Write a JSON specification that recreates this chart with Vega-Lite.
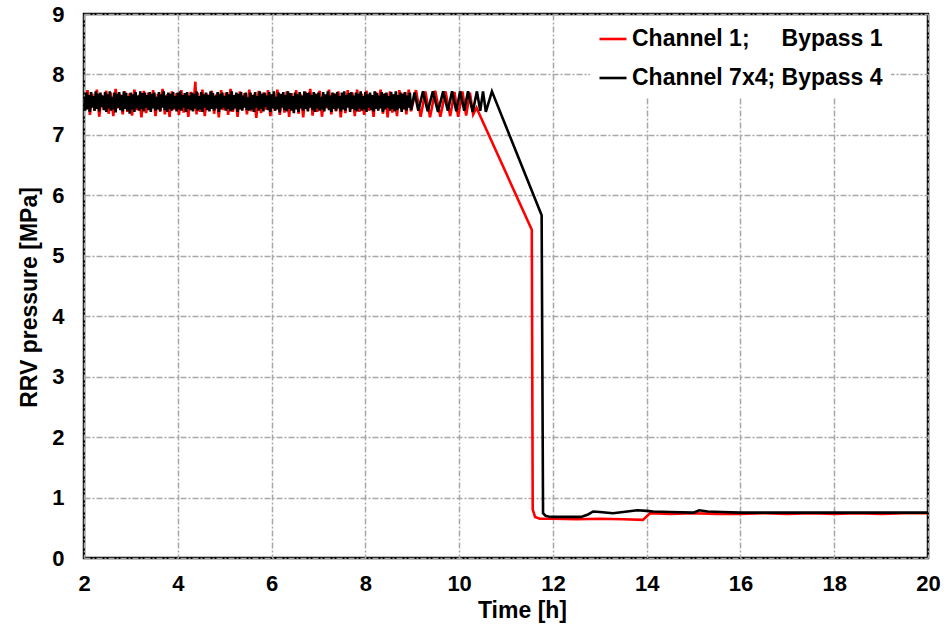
{
  "$schema": "https://vega.github.io/schema/vega-lite/v6.json",
  "width": 844,
  "height": 544,
  "autosize": {"type": "none"},
  "padding": {"left": 84, "top": 14, "right": 24, "bottom": 66},
  "background": "white",
  "config": {
    "view": {"stroke": "black", "strokeWidth": 2.5},
    "font": "Liberation Sans",
    "axis": {
      "labelFont": "Liberation Sans",
      "labelFontSize": 22,
      "labelFontWeight": "bold",
      "labelColor": "black",
      "labelFlush": false,
      "titleFont": "Liberation Sans",
      "titleFontSize": 23,
      "titleFontWeight": "bold",
      "titleColor": "black",
      "tickSize": 0,
      "ticks": false,
      "grid": true,
      "gridColor": "#a8a8a8",
      "gridDash": [6, 2, 2, 2],
      "gridWidth": 1.5,
      "domain": false
    },
    "legend": {
      "orient": "none",
      "legendX": 506,
      "legendY": 2,
      "padding": 8,
      "fillColor": "white",
      "labelFont": "Liberation Sans",
      "labelFontSize": 23,
      "labelFontWeight": "bold",
      "labelColor": "black",
      "labelLimit": 400,
      "labelOffset": 4,
      "symbolType": "stroke",
      "symbolSize": 729,
      "symbolStrokeWidth": 2.6,
      "rowPadding": 12,
      "title": null
    }
  },
  "datasets": {
    "channel1": [
      {"t":2.025,"p":7.45},{"t":2.075,"p":7.74},{"t":2.125,"p":7.33},{"t":2.175,"p":7.68},{"t":2.225,"p":7.40},{"t":2.275,"p":7.75},{"t":2.325,"p":7.30},{"t":2.375,"p":7.66},{"t":2.425,"p":7.42},{"t":2.475,"p":7.73},
      {"t":2.525,"p":7.35},{"t":2.575,"p":7.70},{"t":2.625,"p":7.31},{"t":2.675,"p":7.76},{"t":2.725,"p":7.44},{"t":2.775,"p":7.67},{"t":2.825,"p":7.34},{"t":2.875,"p":7.72},{"t":2.925,"p":7.38},{"t":2.975,"p":7.69},
      {"t":3.025,"p":7.32},{"t":3.075,"p":7.75},{"t":3.125,"p":7.41},{"t":3.175,"p":7.66},{"t":3.225,"p":7.29},{"t":3.275,"p":7.73},{"t":3.325,"p":7.36},{"t":3.375,"p":7.70},{"t":3.425,"p":7.43},{"t":3.475,"p":7.74},
      {"t":3.525,"p":7.31},{"t":3.575,"p":7.68},{"t":3.625,"p":7.39},{"t":3.675,"p":7.76},{"t":3.725,"p":7.34},{"t":3.775,"p":7.67},{"t":3.825,"p":7.30},{"t":3.875,"p":7.72},{"t":3.925,"p":7.42},{"t":3.975,"p":7.69},
      {"t":4.025,"p":7.33},{"t":4.075,"p":7.74},{"t":4.125,"p":7.37},{"t":4.175,"p":7.66},{"t":4.225,"p":7.30},{"t":4.275,"p":7.71},{"t":4.325,"p":7.40},{"t":4.375,"p":7.88},{"t":4.400,"p":7.34},{"t":4.425,"p":7.70},
      {"t":4.475,"p":7.38},{"t":4.525,"p":7.75},{"t":4.575,"p":7.31},{"t":4.625,"p":7.68},{"t":4.675,"p":7.43},{"t":4.725,"p":7.73},{"t":4.775,"p":7.35},{"t":4.825,"p":7.67},{"t":4.875,"p":7.29},{"t":4.925,"p":7.74},
      {"t":4.975,"p":7.41},{"t":5.025,"p":7.70},{"t":5.075,"p":7.33},{"t":5.125,"p":7.76},{"t":5.175,"p":7.38},{"t":5.225,"p":7.66},{"t":5.275,"p":7.30},{"t":5.325,"p":7.72},{"t":5.375,"p":7.44},{"t":5.425,"p":7.69},
      {"t":5.475,"p":7.34},{"t":5.525,"p":7.75},{"t":5.575,"p":7.39},{"t":5.625,"p":7.67},{"t":5.675,"p":7.28},{"t":5.725,"p":7.73},{"t":5.775,"p":7.36},{"t":5.825,"p":7.70},{"t":5.875,"p":7.42},{"t":5.925,"p":7.74},
      {"t":5.975,"p":7.31},{"t":6.025,"p":7.68},{"t":6.075,"p":7.40},{"t":6.125,"p":7.75},{"t":6.175,"p":7.33},{"t":6.225,"p":7.66},{"t":6.275,"p":7.37},{"t":6.325,"p":7.72},{"t":6.375,"p":7.30},{"t":6.425,"p":7.69},
      {"t":6.475,"p":7.43},{"t":6.525,"p":7.74},{"t":6.575,"p":7.35},{"t":6.625,"p":7.67},{"t":6.675,"p":7.29},{"t":6.725,"p":7.71},{"t":6.775,"p":7.41},{"t":6.825,"p":7.76},{"t":6.875,"p":7.32},{"t":6.925,"p":7.68},
      {"t":6.975,"p":7.38},{"t":7.025,"p":7.73},{"t":7.075,"p":7.30},{"t":7.125,"p":7.66},{"t":7.175,"p":7.44},{"t":7.225,"p":7.75},{"t":7.275,"p":7.34},{"t":7.325,"p":7.69},{"t":7.375,"p":7.39},{"t":7.425,"p":7.72},
      {"t":7.475,"p":7.29},{"t":7.525,"p":7.67},{"t":7.575,"p":7.36},{"t":7.625,"p":7.74},{"t":7.675,"p":7.42},{"t":7.725,"p":7.70},{"t":7.775,"p":7.31},{"t":7.825,"p":7.75},{"t":7.875,"p":7.38},{"t":7.925,"p":7.68},
      {"t":7.975,"p":7.33},{"t":8.025,"p":7.73},{"t":8.075,"p":7.40},{"t":8.125,"p":7.66},{"t":8.175,"p":7.30},{"t":8.225,"p":7.71},{"t":8.275,"p":7.43},{"t":8.325,"p":7.75},{"t":8.375,"p":7.35},{"t":8.425,"p":7.69},
      {"t":8.475,"p":7.29},{"t":8.525,"p":7.72},{"t":8.575,"p":7.37},{"t":8.625,"p":7.67},{"t":8.675,"p":7.31},{"t":8.725,"p":7.74},{"t":8.775,"p":7.41},{"t":8.825,"p":7.70},{"t":8.875,"p":7.34},{"t":8.925,"p":7.75},
      {"t":8.975,"p":7.39},
      {"t":9.08,"p":7.74},{"t":9.18,"p":7.30},{"t":9.28,"p":7.72},{"t":9.38,"p":7.29},{"t":9.49,"p":7.73},{"t":9.60,"p":7.30},{"t":9.71,"p":7.72},{"t":9.81,"p":7.31},{"t":9.90,"p":7.71},{"t":9.98,"p":7.30},
      {"t":10.07,"p":7.72},{"t":10.15,"p":7.32},{"t":10.23,"p":7.70},{"t":10.30,"p":7.34},{"t":10.37,"p":7.45},
      {"t":11.55,"p":5.43},{"t":11.57,"p":0.80},{"t":11.62,"p":0.68},{"t":11.72,"p":0.65},{"t":12.0,"p":0.65},{"t":12.5,"p":0.64},{"t":13.0,"p":0.65},{"t":13.5,"p":0.64},{"t":13.92,"p":0.63},{"t":14.07,"p":0.74},
      {"t":14.5,"p":0.73},{"t":15.0,"p":0.74},{"t":15.5,"p":0.73},{"t":16.0,"p":0.73},{"t":16.5,"p":0.74},{"t":17.0,"p":0.73},{"t":17.5,"p":0.74},{"t":18.0,"p":0.73},{"t":18.5,"p":0.74},{"t":19.0,"p":0.73},{"t":19.5,"p":0.74},{"t":20.0,"p":0.74}
    ],
    "channel7x4": [
      {"t":2.000,"p":7.62},{"t":2.025,"p":7.40},{"t":2.050,"p":7.70},{"t":2.075,"p":7.42},{"t":2.100,"p":7.66},{"t":2.125,"p":7.38},{"t":2.150,"p":7.71},{"t":2.175,"p":7.45},{"t":2.200,"p":7.64},{"t":2.225,"p":7.40},
      {"t":2.250,"p":7.72},{"t":2.275,"p":7.43},{"t":2.300,"p":7.68},{"t":2.325,"p":7.39},{"t":2.350,"p":7.70},{"t":2.375,"p":7.46},{"t":2.400,"p":7.65},{"t":2.425,"p":7.41},{"t":2.450,"p":7.71},{"t":2.475,"p":7.38},
      {"t":2.500,"p":7.67},{"t":2.525,"p":7.44},{"t":2.550,"p":7.72},{"t":2.575,"p":7.40},{"t":2.600,"p":7.63},{"t":2.625,"p":7.42},{"t":2.650,"p":7.70},{"t":2.675,"p":7.37},{"t":2.700,"p":7.68},{"t":2.725,"p":7.45},
      {"t":2.750,"p":7.71},{"t":2.775,"p":7.41},{"t":2.800,"p":7.66},{"t":2.825,"p":7.39},{"t":2.850,"p":7.72},{"t":2.875,"p":7.43},{"t":2.900,"p":7.69},{"t":2.925,"p":7.40},{"t":2.950,"p":7.64},{"t":2.975,"p":7.35},
      {"t":3.000,"p":7.70},{"t":3.025,"p":7.42},{"t":3.050,"p":7.67},{"t":3.075,"p":7.38},{"t":3.100,"p":7.71},{"t":3.125,"p":7.44},{"t":3.150,"p":7.65},{"t":3.175,"p":7.40},{"t":3.200,"p":7.72},{"t":3.225,"p":7.43},
      {"t":3.250,"p":7.69},{"t":3.275,"p":7.39},{"t":3.300,"p":7.70},{"t":3.325,"p":7.45},{"t":3.350,"p":7.66},{"t":3.375,"p":7.41},{"t":3.400,"p":7.71},{"t":3.425,"p":7.38},{"t":3.450,"p":7.68},{"t":3.475,"p":7.44},
      {"t":3.500,"p":7.70},{"t":3.525,"p":7.40},{"t":3.550,"p":7.63},{"t":3.575,"p":7.42},{"t":3.600,"p":7.71},{"t":3.625,"p":7.39},{"t":3.650,"p":7.67},{"t":3.675,"p":7.45},{"t":3.700,"p":7.72},{"t":3.725,"p":7.41},
      {"t":3.750,"p":7.65},{"t":3.775,"p":7.38},{"t":3.800,"p":7.70},{"t":3.825,"p":7.43},{"t":3.850,"p":7.68},{"t":3.875,"p":7.40},{"t":3.900,"p":7.71},{"t":3.925,"p":7.44},{"t":3.950,"p":7.64},{"t":3.975,"p":7.39},
      {"t":4.000,"p":7.70},{"t":4.025,"p":7.42},{"t":4.050,"p":7.72},{"t":4.075,"p":7.40},{"t":4.100,"p":7.66},{"t":4.125,"p":7.45},{"t":4.150,"p":7.69},{"t":4.175,"p":7.38},{"t":4.200,"p":7.71},{"t":4.225,"p":7.43},
      {"t":4.250,"p":7.65},{"t":4.275,"p":7.41},{"t":4.300,"p":7.70},{"t":4.325,"p":7.39},{"t":4.350,"p":7.68},{"t":4.375,"p":7.44},{"t":4.400,"p":7.72},{"t":4.425,"p":7.40},{"t":4.450,"p":7.64},{"t":4.475,"p":7.42},
      {"t":4.500,"p":7.71},{"t":4.525,"p":7.38},{"t":4.550,"p":7.67},{"t":4.575,"p":7.45},{"t":4.600,"p":7.70},{"t":4.625,"p":7.41},{"t":4.650,"p":7.66},{"t":4.675,"p":7.39},{"t":4.700,"p":7.72},{"t":4.725,"p":7.43},
      {"t":4.750,"p":7.69},{"t":4.775,"p":7.40},{"t":4.800,"p":7.65},{"t":4.825,"p":7.44},{"t":4.850,"p":7.71},{"t":4.875,"p":7.38},{"t":4.900,"p":7.68},{"t":4.925,"p":7.42},{"t":4.950,"p":7.70},{"t":4.975,"p":7.45},
      {"t":5.000,"p":7.64},{"t":5.025,"p":7.40},{"t":5.050,"p":7.71},{"t":5.075,"p":7.43},{"t":5.100,"p":7.67},{"t":5.125,"p":7.39},{"t":5.150,"p":7.72},{"t":5.175,"p":7.41},{"t":5.200,"p":7.66},{"t":5.225,"p":7.44},
      {"t":5.250,"p":7.70},{"t":5.275,"p":7.38},{"t":5.300,"p":7.68},{"t":5.325,"p":7.42},{"t":5.350,"p":7.71},{"t":5.375,"p":7.40},{"t":5.400,"p":7.65},{"t":5.425,"p":7.45},{"t":5.450,"p":7.70},{"t":5.475,"p":7.41},
      {"t":5.500,"p":7.62},{"t":5.525,"p":7.40},{"t":5.550,"p":7.70},{"t":5.575,"p":7.42},{"t":5.600,"p":7.66},{"t":5.625,"p":7.38},{"t":5.650,"p":7.71},{"t":5.675,"p":7.45},{"t":5.700,"p":7.64},{"t":5.725,"p":7.40},
      {"t":5.750,"p":7.72},{"t":5.775,"p":7.43},{"t":5.800,"p":7.68},{"t":5.825,"p":7.39},{"t":5.850,"p":7.70},{"t":5.875,"p":7.46},{"t":5.900,"p":7.65},{"t":5.925,"p":7.41},{"t":5.950,"p":7.71},{"t":5.975,"p":7.38},
      {"t":6.000,"p":7.67},{"t":6.025,"p":7.44},{"t":6.050,"p":7.72},{"t":6.075,"p":7.40},{"t":6.100,"p":7.63},{"t":6.125,"p":7.42},{"t":6.150,"p":7.70},{"t":6.175,"p":7.37},{"t":6.200,"p":7.68},{"t":6.225,"p":7.45},
      {"t":6.250,"p":7.71},{"t":6.275,"p":7.41},{"t":6.300,"p":7.66},{"t":6.325,"p":7.39},{"t":6.350,"p":7.72},{"t":6.375,"p":7.43},{"t":6.400,"p":7.69},{"t":6.425,"p":7.40},{"t":6.450,"p":7.64},{"t":6.475,"p":7.36},
      {"t":6.500,"p":7.70},{"t":6.525,"p":7.42},{"t":6.550,"p":7.67},{"t":6.575,"p":7.38},{"t":6.600,"p":7.71},{"t":6.625,"p":7.44},{"t":6.650,"p":7.65},{"t":6.675,"p":7.40},{"t":6.700,"p":7.72},{"t":6.725,"p":7.43},
      {"t":6.750,"p":7.69},{"t":6.775,"p":7.39},{"t":6.800,"p":7.70},{"t":6.825,"p":7.45},{"t":6.850,"p":7.66},{"t":6.875,"p":7.41},{"t":6.900,"p":7.71},{"t":6.925,"p":7.38},{"t":6.950,"p":7.68},{"t":6.975,"p":7.44},
      {"t":7.000,"p":7.70},{"t":7.025,"p":7.40},{"t":7.050,"p":7.63},{"t":7.075,"p":7.42},{"t":7.100,"p":7.71},{"t":7.125,"p":7.39},{"t":7.150,"p":7.67},{"t":7.175,"p":7.45},{"t":7.200,"p":7.72},{"t":7.225,"p":7.41},
      {"t":7.250,"p":7.65},{"t":7.275,"p":7.38},{"t":7.300,"p":7.70},{"t":7.325,"p":7.43},{"t":7.350,"p":7.68},{"t":7.375,"p":7.40},{"t":7.400,"p":7.71},{"t":7.425,"p":7.44},{"t":7.450,"p":7.64},{"t":7.475,"p":7.39},
      {"t":7.500,"p":7.70},{"t":7.525,"p":7.42},{"t":7.550,"p":7.72},{"t":7.575,"p":7.40},{"t":7.600,"p":7.66},{"t":7.625,"p":7.45},{"t":7.650,"p":7.69},{"t":7.675,"p":7.38},{"t":7.700,"p":7.71},{"t":7.725,"p":7.43},
      {"t":7.750,"p":7.65},{"t":7.775,"p":7.41},{"t":7.800,"p":7.70},{"t":7.825,"p":7.39},{"t":7.850,"p":7.68},{"t":7.875,"p":7.44},{"t":7.900,"p":7.72},{"t":7.925,"p":7.40},{"t":7.950,"p":7.64},{"t":7.975,"p":7.42},
      {"t":8.000,"p":7.71},{"t":8.025,"p":7.38},{"t":8.050,"p":7.67},{"t":8.075,"p":7.45},{"t":8.100,"p":7.70},{"t":8.125,"p":7.41},{"t":8.150,"p":7.66},{"t":8.175,"p":7.39},{"t":8.200,"p":7.72},{"t":8.225,"p":7.43},
      {"t":8.250,"p":7.69},{"t":8.275,"p":7.40},{"t":8.300,"p":7.65},{"t":8.325,"p":7.44},{"t":8.350,"p":7.71},{"t":8.375,"p":7.38},{"t":8.400,"p":7.68},{"t":8.425,"p":7.42},{"t":8.450,"p":7.70},{"t":8.475,"p":7.45},
      {"t":8.500,"p":7.64},{"t":8.525,"p":7.40},{"t":8.550,"p":7.71},{"t":8.575,"p":7.43},{"t":8.600,"p":7.67},{"t":8.625,"p":7.39},{"t":8.650,"p":7.72},{"t":8.675,"p":7.41},{"t":8.700,"p":7.66},{"t":8.725,"p":7.44},
      {"t":8.750,"p":7.70},{"t":8.775,"p":7.38},{"t":8.800,"p":7.68},{"t":8.825,"p":7.42},{"t":8.850,"p":7.71},{"t":8.875,"p":7.40},{"t":8.900,"p":7.65},{"t":8.925,"p":7.45},{"t":8.950,"p":7.70},{"t":8.975,"p":7.41},
      {"t":9.05,"p":7.70},{"t":9.13,"p":7.40},{"t":9.23,"p":7.72},{"t":9.33,"p":7.39},{"t":9.44,"p":7.72},{"t":9.55,"p":7.38},{"t":9.66,"p":7.72},{"t":9.76,"p":7.40},{"t":9.85,"p":7.72},{"t":9.94,"p":7.39},
      {"t":10.02,"p":7.72},{"t":10.11,"p":7.40},{"t":10.19,"p":7.72},{"t":10.29,"p":7.38},{"t":10.38,"p":7.72},{"t":10.45,"p":7.40},{"t":10.51,"p":7.72},{"t":10.57,"p":7.38},{"t":10.70,"p":7.72},
      {"t":11.76,"p":5.67},{"t":11.79,"p":0.74},{"t":11.84,"p":0.70},{"t":11.94,"p":0.68},{"t":12.3,"p":0.68},{"t":12.6,"p":0.68},{"t":12.75,"p":0.72},{"t":12.86,"p":0.77},{"t":13.0,"p":0.76},{"t":13.28,"p":0.74},
      {"t":13.5,"p":0.76},{"t":13.8,"p":0.79},{"t":14.0,"p":0.78},{"t":14.14,"p":0.77},{"t":14.5,"p":0.76},{"t":15.0,"p":0.75},{"t":15.12,"p":0.79},{"t":15.3,"p":0.77},{"t":15.6,"p":0.76},{"t":16.0,"p":0.75},
      {"t":17.0,"p":0.75},{"t":18.0,"p":0.75},{"t":19.0,"p":0.75},{"t":20.0,"p":0.75}
    ]
  },
  "encoding": {
    "x": {
      "field": "t",
      "type": "quantitative",
      "scale": {"domain": [2, 20], "nice": false, "zero": false},
      "axis": {
        "values": [2, 4, 6, 8, 10, 12, 14, 16, 18, 20],
        "labelPadding": 15,
        "title": "Time [h]",
        "titleX": 438,
        "titleY": 59,
        "titleAlign": "center",
        "titleBaseline": "alphabetic"
      }
    },
    "y": {
      "field": "p",
      "type": "quantitative",
      "scale": {"domain": [0, 9], "nice": false},
      "axis": {
        "values": [0, 1, 2, 3, 4, 5, 6, 7, 8, 9],
        "labelPadding": 20,
        "title": "RRV pressure [MPa]",
        "titleX": -48,
        "titleY": 283,
        "titleAngle": -90,
        "titleAlign": "center",
        "titleBaseline": "alphabetic"
      }
    }
  },
  "layer": [
    {
      "data": {"name": "channel1"},
      "mark": {"type": "line", "strokeWidth": 2.6, "clip": true},
      "encoding": {
        "color": {
          "datum": "Channel 1;\u00a0\u00a0\u00a0\u00a0\u00a0Bypass 1",
          "type": "nominal",
          "scale": {
            "domain": ["Channel 1;\u00a0\u00a0\u00a0\u00a0\u00a0Bypass 1", "Channel 7x4; Bypass 4"],
            "range": ["#ff0000", "#000000"]
          }
        }
      }
    },
    {
      "data": {"name": "channel7x4"},
      "mark": {"type": "line", "strokeWidth": 2.6, "clip": true},
      "encoding": {
        "color": {"datum": "Channel 7x4; Bypass 4", "type": "nominal"}
      }
    }
  ]
}
